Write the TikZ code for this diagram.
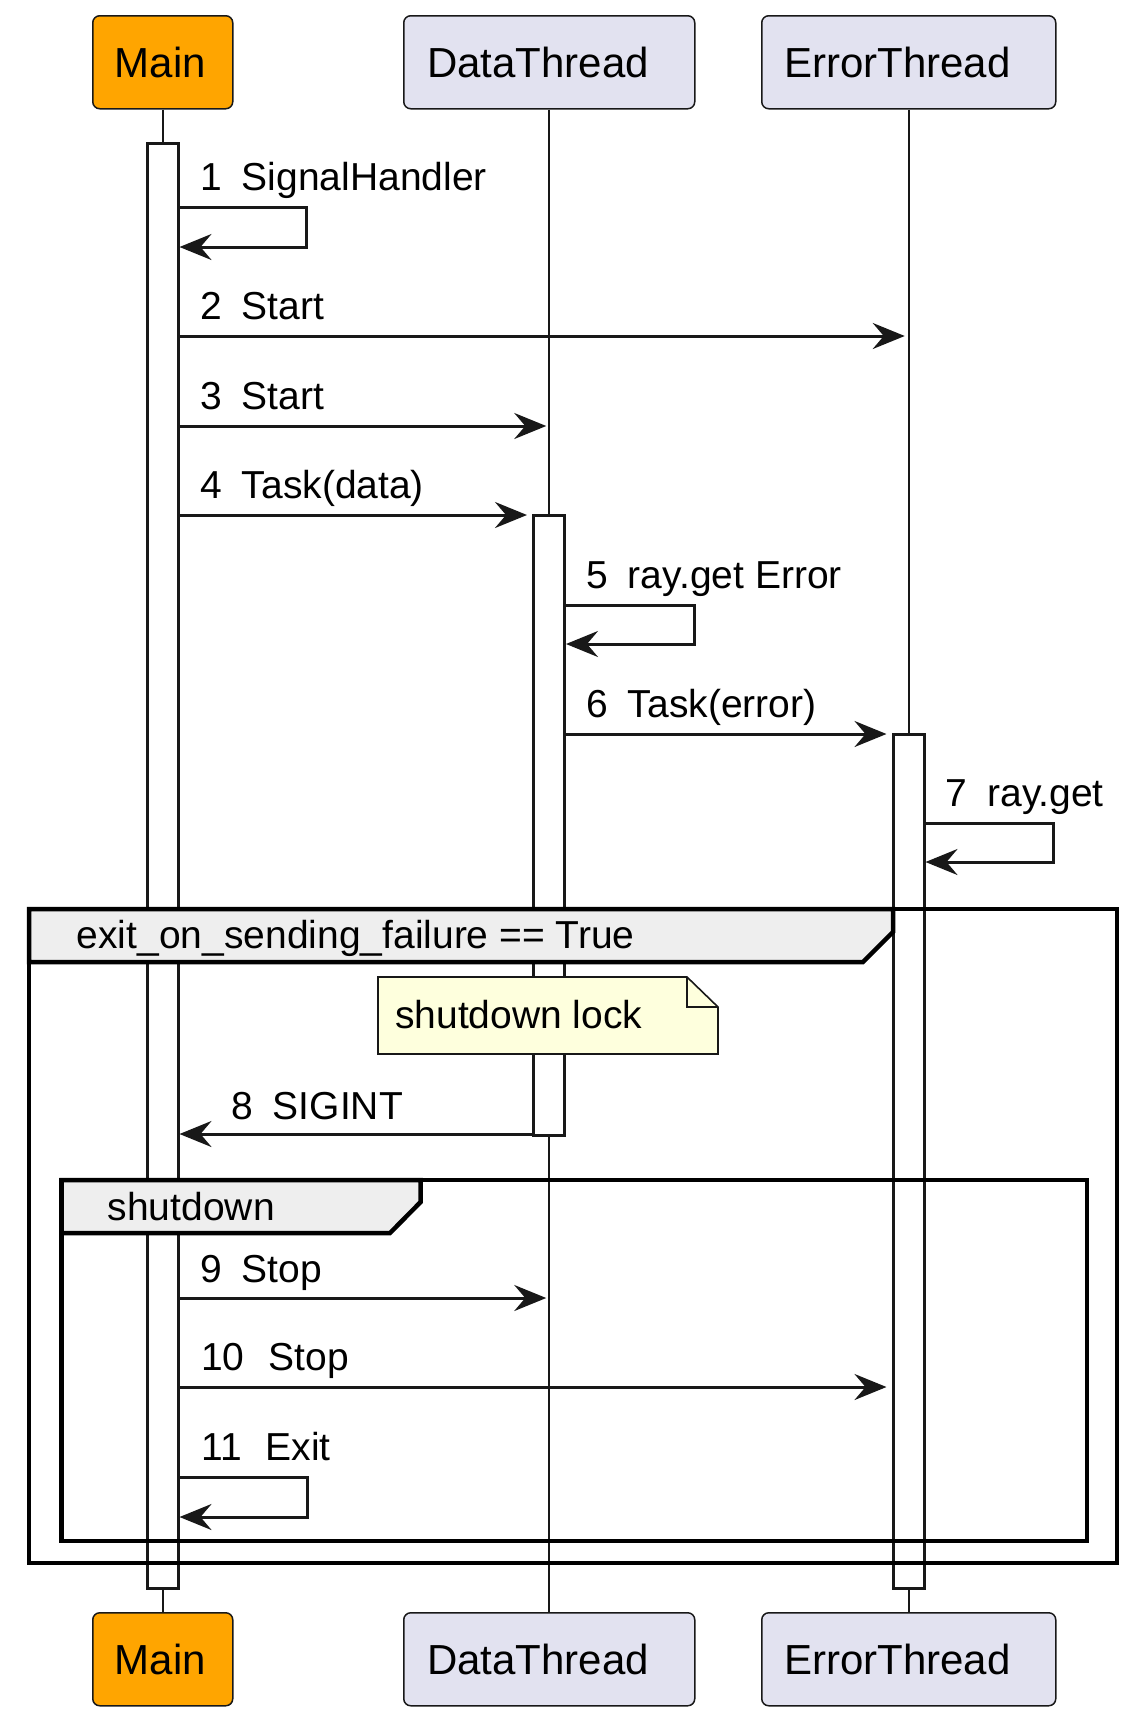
\documentclass[tikz,border=0pt]{standalone}
\usepackage{fontspec}
\setmainfont{Liberation Sans}
\usetikzlibrary{arrows.meta,calc}
\definecolor{lineC}{HTML}{181818}
\definecolor{mainC}{HTML}{FFA500}
\definecolor{partC}{HTML}{E2E2F0}
\definecolor{tabC}{HTML}{EEEEEE}
\definecolor{noteC}{HTML}{FEFFDD}
\newcommand\pfont{\fontsize{42}{50}\selectfont}
\newcommand\mfont{\fontsize{39}{47}\selectfont}
\begin{document}
\begin{tikzpicture}[x=1pt,y=-1pt,
  pbox/.style={draw=lineC, line width=1.5pt, rounded corners=7pt, rectangle, anchor=north west, inner sep=0pt, minimum height=93pt},
  ptext/.style={anchor=base west, inner sep=0pt, font=\pfont, text=black},
  life/.style={draw=lineC, line width=1.6pt},
  act/.style={draw=lineC, fill=white, line width=3pt, rectangle, anchor=north, minimum width=31pt, inner sep=0pt},
  msg/.style={draw=lineC, line width=3pt, line join=miter, -{Stealth[length=32pt,width=26pt,inset=11pt,fill=lineC]}},
  mlabel/.style={anchor=base west, inner sep=0pt, font=\mfont, text=black},
  gframe/.style={draw=black, line width=4.5pt, line join=miter},
  gtab/.style={draw=black, fill=tabC, line width=4.5pt, line join=miter},
  notebox/.style={draw=lineC, fill=noteC, line width=1.6pt, line join=miter}
]
\useasboundingbox (0,0) rectangle (1144,1721);

% participants
\node[pbox, fill=mainC, minimum width=140pt] (mainTop) at (92,15) {};
\node[pbox, fill=partC, minimum width=291pt] (dtTop) at (403,15) {};
\node[pbox, fill=partC, minimum width=294pt] (etTop) at (761,15) {};
\node[pbox, fill=mainC, minimum width=140pt] (mainBot) at (92,1612) {};
\node[pbox, fill=partC, minimum width=291pt] (dtBot) at (403,1612) {};
\node[pbox, fill=partC, minimum width=294pt] (etBot) at (761,1612) {};
\node[ptext] (mainTopT) at (114.5,77) {Main};
\node[ptext] (dtTopT) at (427,77) {DataThread};
\node[ptext] (etTopT) at (784,77) {ErrorThread};
\node[ptext] (mainBotT) at (114.5,1674) {Main};
\node[ptext] (dtBotT) at (427,1674) {DataThread};
\node[ptext] (etBotT) at (784,1674) {ErrorThread};

% lifelines
\draw[life] (mainTop.south) -- (mainBot.north);
\draw[life] (dtTop.south) -- (dtBot.north);
\draw[life] (etTop.south) -- (etBot.north);

% activations
\node[act, minimum height=1445pt] (actMain) at (162.5,142) {};
\node[act, minimum height=620pt] (actDT) at (549,514) {};
\node[act, minimum height=854pt] (actET) at (908.5,733) {};

% outer group
\draw[gtab] (29,909) -- (893,909) -- (893,932) -- (863,962) -- (29,962) -- cycle;
\draw[gframe] (29,909) rectangle (1117,1563);
\node[mlabel] (g1label) at (76.6,948) {exit\_on\_sending\_failure == True};

% note
\draw[notebox] (378,977) -- (687,977) -- (718,1007) -- (718,1054) -- (378,1054) -- cycle;
\draw[notebox, fill=none] (687,977) -- (687,1007) -- (718,1007);
\node[mlabel] (note) at (395,1028) {shutdown lock};

% inner group
\draw[gtab] (61.5,1180) -- (420.6,1180) -- (420.6,1202) -- (390,1233) -- (61.5,1233) -- cycle;
\draw[gframe] (61.5,1180) rectangle (1087,1541);
\node[mlabel] (g2label) at (107.6,1220) {shutdown};

% messages
\draw[msg] (actMain.east |- 0,207) -- (306,207) -- (306,247) -- (actMain.east |- 0,247);
\node[mlabel] (l1) at (200,190) {1\hspace{20pt}SignalHandler};

\draw[msg, shorten >=4pt] (actMain.east |- 0,336) -- (etTop.south |- 0,336);
\node[mlabel] (l2) at (200,319) {2\hspace{20pt}Start};

\draw[msg, shorten >=3pt] (actMain.east |- 0,426) -- (dtTop.south |- 0,426);
\node[mlabel] (l3) at (200,409) {3\hspace{20pt}Start};

\draw[msg, shorten >=5pt] (actMain.east |- 0,515) -- (actDT.west |- 0,515);
\node[mlabel] (l4) at (200,498) {4\hspace{20pt}Task(data)};

\draw[msg] (actDT.east |- 0,605) -- (694,605) -- (694,644) -- (actDT.east |- 0,644);
\node[mlabel] (l5) at (586,588) {5\hspace{20pt}ray.get Error};

\draw[msg, shorten >=5pt] (actDT.east |- 0,734) -- (actET.west |- 0,734);
\node[mlabel] (l6) at (586,717) {6\hspace{20pt}Task(error)};

\draw[msg] (actET.east |- 0,823) -- (1053,823) -- (1053,862) -- (actET.east |- 0,862);
\node[mlabel] (l7) at (945.6,806) {7\hspace{20pt}ray.get};

\draw[msg] (actDT.west |- 0,1134) -- (actMain.east |- 0,1134);
\node[mlabel] (l8) at (231,1119) {8\hspace{20pt}SIGINT};

\draw[msg, shorten >=3pt] (actMain.east |- 0,1298) -- (dtTop.south |- 0,1298);
\node[mlabel] (l9) at (200,1282) {9\hspace{20pt}Stop};

\draw[msg, shorten >=5pt] (actMain.east |- 0,1387) -- (actET.west |- 0,1387);
\node[mlabel] (l10) at (201,1370) {10\hspace{24pt}Stop};

\draw[msg] (actMain.east |- 0,1477) -- (307,1477) -- (307,1517) -- (actMain.east |- 0,1517);
\node[mlabel] (l11) at (201,1460) {11\hspace{24pt}Exit};
\end{tikzpicture}
\end{document}
